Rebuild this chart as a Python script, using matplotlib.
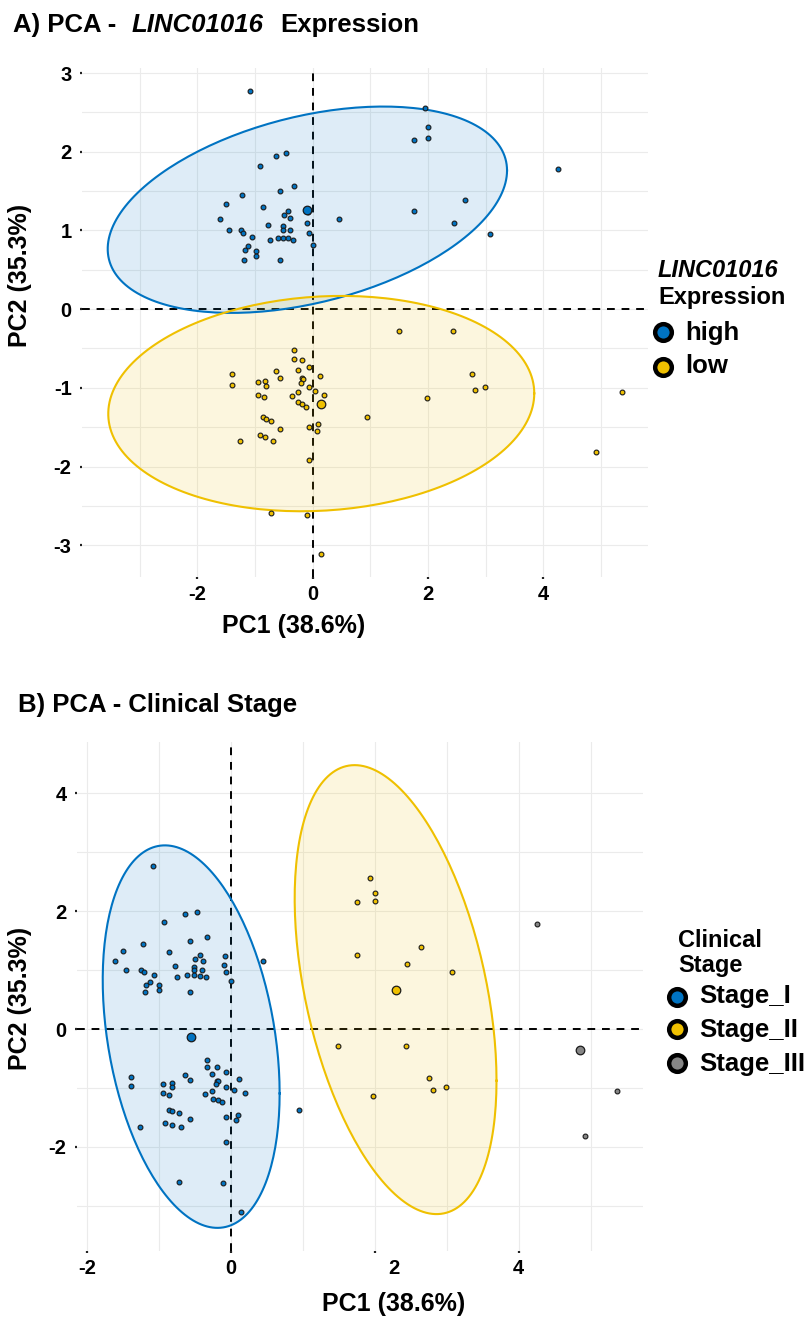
import numpy as np
import matplotlib
matplotlib.use("Agg")
import matplotlib.pyplot as plt
from matplotlib.ticker import FixedLocator
from matplotlib.lines import Line2D

plt.rcParams["font.family"] = ["Liberation Sans", "DejaVu Sans"]
plt.rcParams["font.weight"] = "bold"
plt.rcParams["axes.unicode_minus"] = False

# PCA scores (same individuals in both panels)
pc1 = [-1.08, -0.63, -0.47, -0.92, -0.33, -0.56, -1.22, -1.50, -0.86, -1.60,
       -0.43, -0.49, -0.39, -0.08, 0.45, -1.45, -1.25, -1.21, -0.78, -0.51,
       -0.51, -0.40, -0.09, -0.07, -1.06, -0.60, -0.51, -0.42, -0.34, -0.74,
       0.00, -1.12, -1.17, -0.99, -0.99, -1.19, -0.56,
       1.94, 2.00, 2.00, 1.75, 4.25, 2.64, 1.76, 2.45, 3.07,
       1.49, 2.43,
       -0.33, -0.33, -0.19, -0.06, -0.64, -0.26, -1.39, -0.57, 0.12, -0.19,
       -0.17, -0.94, -0.82, -0.81, -1.39, -0.21, -0.06, 0.04, -0.26, -0.94,
       -0.85, -0.36, 0.20, -0.25, -0.18, -0.12, 0.95, -0.86, -0.81, -0.72,
       -0.57, -0.06, 0.10, 0.07, -0.91, -0.82, -0.69, -1.26, -0.06, -0.72,
       -0.10, 0.14,
       2.76, 2.81, 2.99, 1.98, 5.37, 4.92]
pc2 = [2.77, 1.95, 1.99, 1.82, 1.57, 1.50, 1.45, 1.33, 1.30, 1.15,
       1.25, 1.19, 1.16, 1.24, 1.15, 1.00, 1.01, 0.97, 1.07, 1.05,
       1.00, 1.00, 1.09, 0.97, 0.92, 0.91, 0.91, 0.90, 0.88, 0.88,
       0.82, 0.80, 0.75, 0.74, 0.67, 0.63, 0.63,
       2.56, 2.31, 2.18, 2.15, 1.78, 1.39, 1.25, 1.10, 0.96,
       -0.28, -0.28,
       -0.52, -0.64, -0.65, -0.73, -0.78, -0.77, -0.82, -0.87, -0.85, -0.88,
       -0.89, -0.93, -0.91, -0.98, -0.97, -0.94, -0.99, -1.04, -1.05, -1.09,
       -1.12, -1.10, -1.09, -1.18, -1.21, -1.24, -1.37, -1.37, -1.39, -1.42,
       -1.52, -1.50, -1.46, -1.55, -1.60, -1.63, -1.67, -1.67, -1.92, -2.59,
       -2.61, -3.11,
       -0.83, -1.03, -0.99, -1.13, -1.05, -1.81]

expression = ["high"] * 46 + ["low"] * 50
stage = (["Stage_I"] * 37 + ["Stage_II"] * 4 + ["Stage_III"] + ["Stage_II"] * 4
         + ["Stage_II"] * 2 + ["Stage_I"] * 42 + ["Stage_II"] * 4 + ["Stage_III"] * 2)

expr_levels = ["high", "low"]
stage_levels = ["Stage_I", "Stage_II", "Stage_III"]
jco = ["#0073C2", "#EFC000", "#868686"]

# axis breaks (major labelled, minor only gridlines)
a_xmajor = [-2, 0, 2, 4]
a_xminor = [-3, -1, 1, 3, 5]
a_ymajor = [-3, -2, -1, 0, 1, 2, 3]
a_yminor = [-2.5, -1.5, -0.5, 0.5, 1.5, 2.5]
b_xmajor = [-2, 0, 2, 4]
b_xminor = [-1, 1, 3, 5]
b_ymajor = [-2, 0, 2, 4]
b_yminor = [-3, -1, 1, 3]

x = np.array(pc1)
y = np.array(pc2)

W, H = 808, 1317
fig = plt.figure(figsize=(W / 100, H / 100), dpi=100)


def fx(px):
    return px / W


def fy(py):
    return 1 - py / H


def norm_ellipse(xs, ys, level=0.95, n=200):
    # same as ggplot2 stat_ellipse(type = "norm")
    pts = np.column_stack([xs, ys])
    center = pts.mean(axis=0)
    cov = np.cov(pts, rowvar=False)
    d = len(xs) - 1
    q = (d / 2) * ((1 - level) ** (-2 / d) - 1)   # qf(level, 2, d)
    radius = np.sqrt(2 * q)
    t = np.linspace(0, 2 * np.pi, n)
    circle = np.column_stack([np.cos(t), np.sin(t)])
    R = np.linalg.cholesky(cov).T
    return center + radius * circle @ R


def pca_panel(ax, groups, levels, xmaj, xmin, ymaj, ymin):
    groups = np.array(groups)
    ells = {}
    for lev in levels:
        m = groups == lev
        if m.sum() > 3:
            ells[lev] = norm_ellipse(x[m], y[m])
    allx = np.concatenate([x] + [e[:, 0] for e in ells.values()])
    ally = np.concatenate([y] + [e[:, 1] for e in ells.values()])
    dx = (allx.max() - allx.min()) * 0.05
    dy = (ally.max() - ally.min()) * 0.05
    ax.set_xlim(allx.min() - dx, allx.max() + dx)
    ax.set_ylim(ally.min() - dy, ally.max() + dy)

    ax.axhline(0, color="black", lw=1.4, ls=(0, (4, 3.5)), zorder=2)
    ax.axvline(0, color="black", lw=1.4, ls=(0, (4, 3.5)), zorder=2)
    for lev, col in zip(levels, jco):
        if lev in ells:
            e = ells[lev]
            ax.fill(e[:, 0], e[:, 1], color=col, alpha=0.13, lw=0, zorder=3)
            ax.plot(e[:, 0], e[:, 1], color=col, lw=1.5, zorder=4)
    for lev, col in zip(levels, jco):
        m = groups == lev
        ax.scatter(x[m], y[m], s=12, c=col, edgecolors="#1a1a1a",
                   linewidths=0.8, zorder=5)
        ax.scatter([x[m].mean()], [y[m].mean()], s=38, c=col,
                   edgecolors="#1a1a1a", linewidths=0.9, zorder=6)

    for s in ax.spines.values():
        s.set_visible(False)
    ax.xaxis.set_major_locator(FixedLocator(xmaj))
    ax.xaxis.set_minor_locator(FixedLocator(xmin))
    ax.yaxis.set_major_locator(FixedLocator(ymaj))
    ax.yaxis.set_minor_locator(FixedLocator(ymin))
    ax.grid(which="both", color="#ebebeb", lw=0.8)
    ax.set_axisbelow(True)
    ax.tick_params(which="major", length=1.5, width=1.6, color="#222222",
                   labelsize=14.5)
    ax.tick_params(axis="y", which="major", pad=6)
    ax.tick_params(axis="x", which="major", pad=4)
    ax.tick_params(which="minor", length=0)


def chain_text(parts, px, py, size):
    r = fig.canvas.get_renderer()
    xf = fx(px)
    for s, style, gap in parts:
        t = fig.text(xf + gap / W, fy(py), s, fontsize=size, fontweight="bold",
                     fontstyle=style, va="baseline", ha="left")
        bb = t.get_window_extent(renderer=r)
        xf = bb.x1 / fig.bbox.width


# ---- Panel A ----
axA = fig.add_axes([fx(82), fy(577), fx(566), 509 / H])
pca_panel(axA, expression, expr_levels, a_xmajor, a_xminor, a_ymajor, a_yminor)
chain_text([("A) PCA -", "normal", 0), ("LINC01016", "italic", 15),
            ("Expression", "normal", 17)], 13, 32, 18.5)
fig.text(fx(222), fy(633), "PC1 (38.6%)", fontsize=18, va="baseline")
fig.text(fx(20), fy(275), "PC2 (35.3%)", fontsize=18, rotation=90,
         ha="center", va="center")

fig.text(fx(658), fy(277), "LINC01016", fontsize=17, fontstyle="italic")
fig.text(fx(658), fy(304), "Expression", fontsize=17)
for lev, col, py, ty in zip(expr_levels, jco, [332, 367], [340, 373]):
    fig.add_artist(Line2D([fx(663)], [fy(py)], marker="o", ms=12, mew=3.2,
                          mfc=col, mec="black", transform=fig.transFigure))
    fig.text(fx(685), fy(ty), lev, fontsize=18.5, va="baseline")

# ---- Panel B ----
axB = fig.add_axes([fx(77), fy(1251), fx(566), 509 / H])
pca_panel(axB, stage, stage_levels, b_xmajor, b_xminor, b_ymajor, b_yminor)
# the "2" label sits a little right of its tick in the original
axB.set_xticklabels(["-2", "0", "", "4"])
axB.annotate("2", xy=(2, 0), xycoords=("data", "axes fraction"),
             xytext=(14, -5.5), textcoords="offset points",
             ha="center", va="top", fontsize=14.5)
chain_text([("B) PCA - Clinical Stage", "normal", 0)], 18, 712, 18.5)
fig.text(fx(322), fy(1311), "PC1 (38.6%)", fontsize=18, va="baseline")
fig.text(fx(20), fy(998), "PC2 (35.3%)", fontsize=18, rotation=90,
         ha="center", va="center")

fig.text(fx(678), fy(947), "Clinical", fontsize=17)
fig.text(fx(678), fy(972), "Stage", fontsize=17)
for lev, col, py, ty in zip(stage_levels, jco, [997, 1029, 1063],
                            [1003, 1037, 1071]):
    fig.add_artist(Line2D([fx(677)], [fy(py)], marker="o", ms=12, mew=3.2,
                          mfc=col, mec="black", transform=fig.transFigure))
    fig.text(fx(699), fy(ty), lev, fontsize=18.5, va="baseline")

fig.savefig("out.png", dpi=100, facecolor="white")
